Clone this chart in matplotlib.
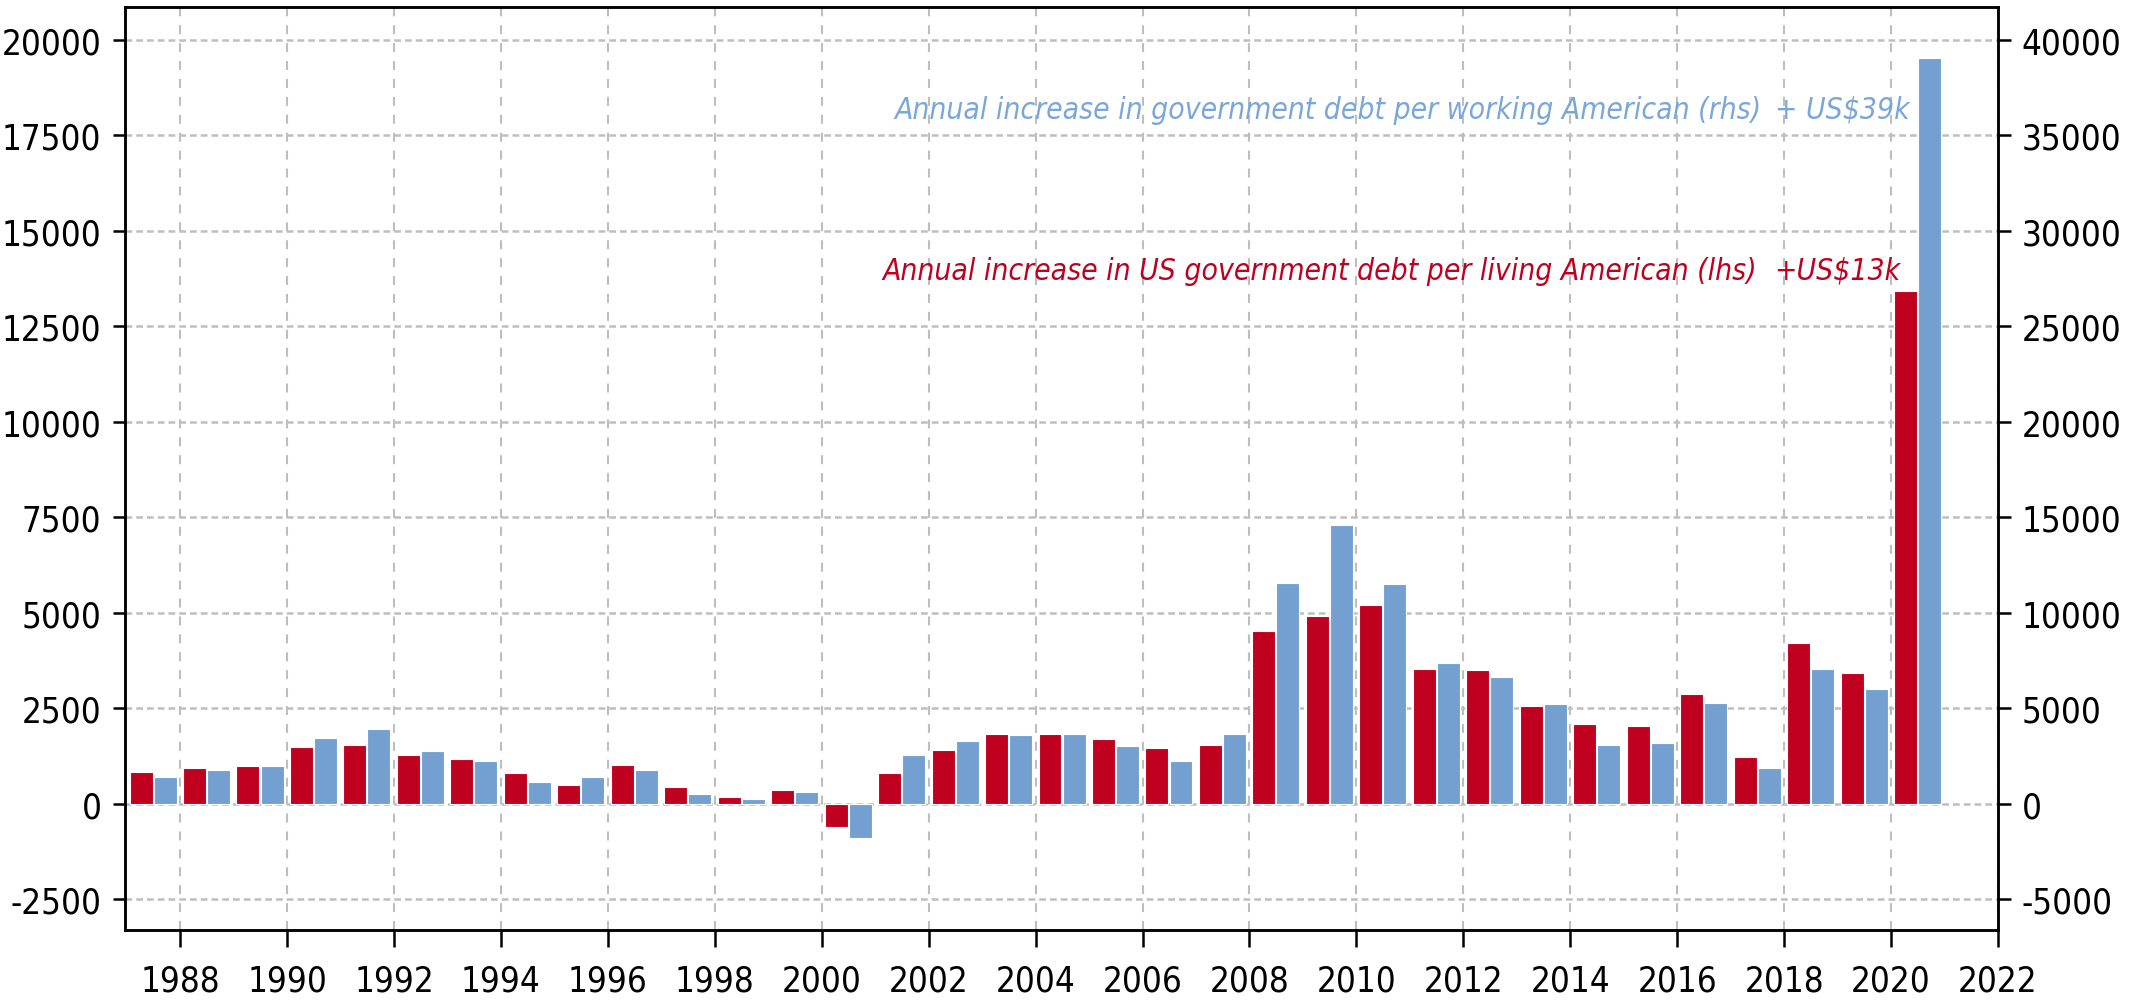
import matplotlib
matplotlib.use("Agg")
import matplotlib.pyplot as plt
import numpy as np

years = list(range(1987, 2021))
per_living = [827, 949, 984, 1498, 1550, 1272, 1185, 810, 505, 1028, 436,
              192, 366, -601, 801, 1420, 1838, 1820, 1707, 1455, 1550,
              4538, 4930, 5217, 3519, 3510, 2552, 2082, 2030, 2866, 1237,
              4216, 3415, 13415]
per_working = [1394, 1777, 1968, 3432, 3937, 2752, 2265, 1167, 1428, 1777, 505,
               261, 627, -1759, 2561, 3293, 3624, 3676, 3049, 2247, 3658,
               11550, 14598, 11497, 7369, 6620, 5226, 3066, 3170, 5279, 1881,
               7055, 5993, 39032]
x_ticks = list(range(1988, 2023, 2))
lhs_ticks = [-2500, 0, 2500, 5000, 7500, 10000, 12500, 15000, 17500, 20000]
rhs_ticks = [-5000, 0, 5000, 10000, 15000, 20000, 25000, 30000, 35000, 40000]
label_working = "Annual increase in government debt per working American (rhs)"
label_living = "Annual increase in US government debt per living American (lhs)"
note_working = "+ US$39k"
note_living = "+US$13k"

RED = "#C0001F"
BLUE = "#74A0D1"
BLUE_TXT = "#7AA6D8"
plt.rcParams["font.family"] = ["DejaVu Sans"]
plt.rcParams["font.stretch"] = "condensed"
plt.rcParams["axes.unicode_minus"] = False

fig = plt.figure(figsize=(21.34, 10.04), dpi=100)
ax = fig.add_axes([125/2134, 1-931/1004, (1998-125)/2134, (931-8)/1004])
ax2 = ax.twinx()

yrs = np.array(years, dtype=float)
ax.bar(yrs + 0.27, per_living, width=0.43, color=RED, edgecolor="white",
       linewidth=0.8, zorder=3)
ax2.bar(yrs + 0.72, per_working, width=0.43, color=BLUE, edgecolor="white",
        linewidth=0.8, zorder=3)

ax.set_xlim(1986.97, 2022)
ax.set_ylim(-3300, 20860)
ax2.set_ylim(-6600, 41720)
ax.set_xticks(x_ticks)
ax.set_yticks(lhs_ticks)
ax2.set_yticks(rhs_ticks)

ax.set_axisbelow(True)
ax.grid(axis="y", color="#BEBEBE", linewidth=1.8, linestyle=(0, (2.7, 1.6)), zorder=0)
ax.grid(axis="x", color="#BEBEBE", linewidth=1.5, linestyle=(0, (4.3, 4.3)), zorder=0)

for a in (ax, ax2):
    for s in a.spines.values():
        s.set_linewidth(1.8)
        s.set_color("black")
ax.tick_params(axis="y", direction="out", length=9, width=1.8, labelsize=25, pad=8)
ax.tick_params(axis="x", direction="out", length=12, width=1.8, labelsize=25, pad=12)
ax2.tick_params(axis="y", direction="out", length=9, width=1.8, labelsize=25, pad=8)

ax2.text(2001.36, 36380, label_working, color=BLUE_TXT,
         fontsize=21.5, style="italic", ha="left", va="center", zorder=5)
ax2.text(2020.35, 36380, note_working, color=BLUE_TXT,
         fontsize=21.5, style="italic", ha="right", va="center", zorder=5)
ax2.text(2001.13, 27950, label_living, color=RED,
         fontsize=21.5, style="italic", ha="left", va="center", zorder=5)
ax2.text(2020.18, 27950, note_living, color=RED,
         fontsize=21.5, style="italic", ha="right", va="center", zorder=5)

fig.savefig("out.png", dpi=100)
